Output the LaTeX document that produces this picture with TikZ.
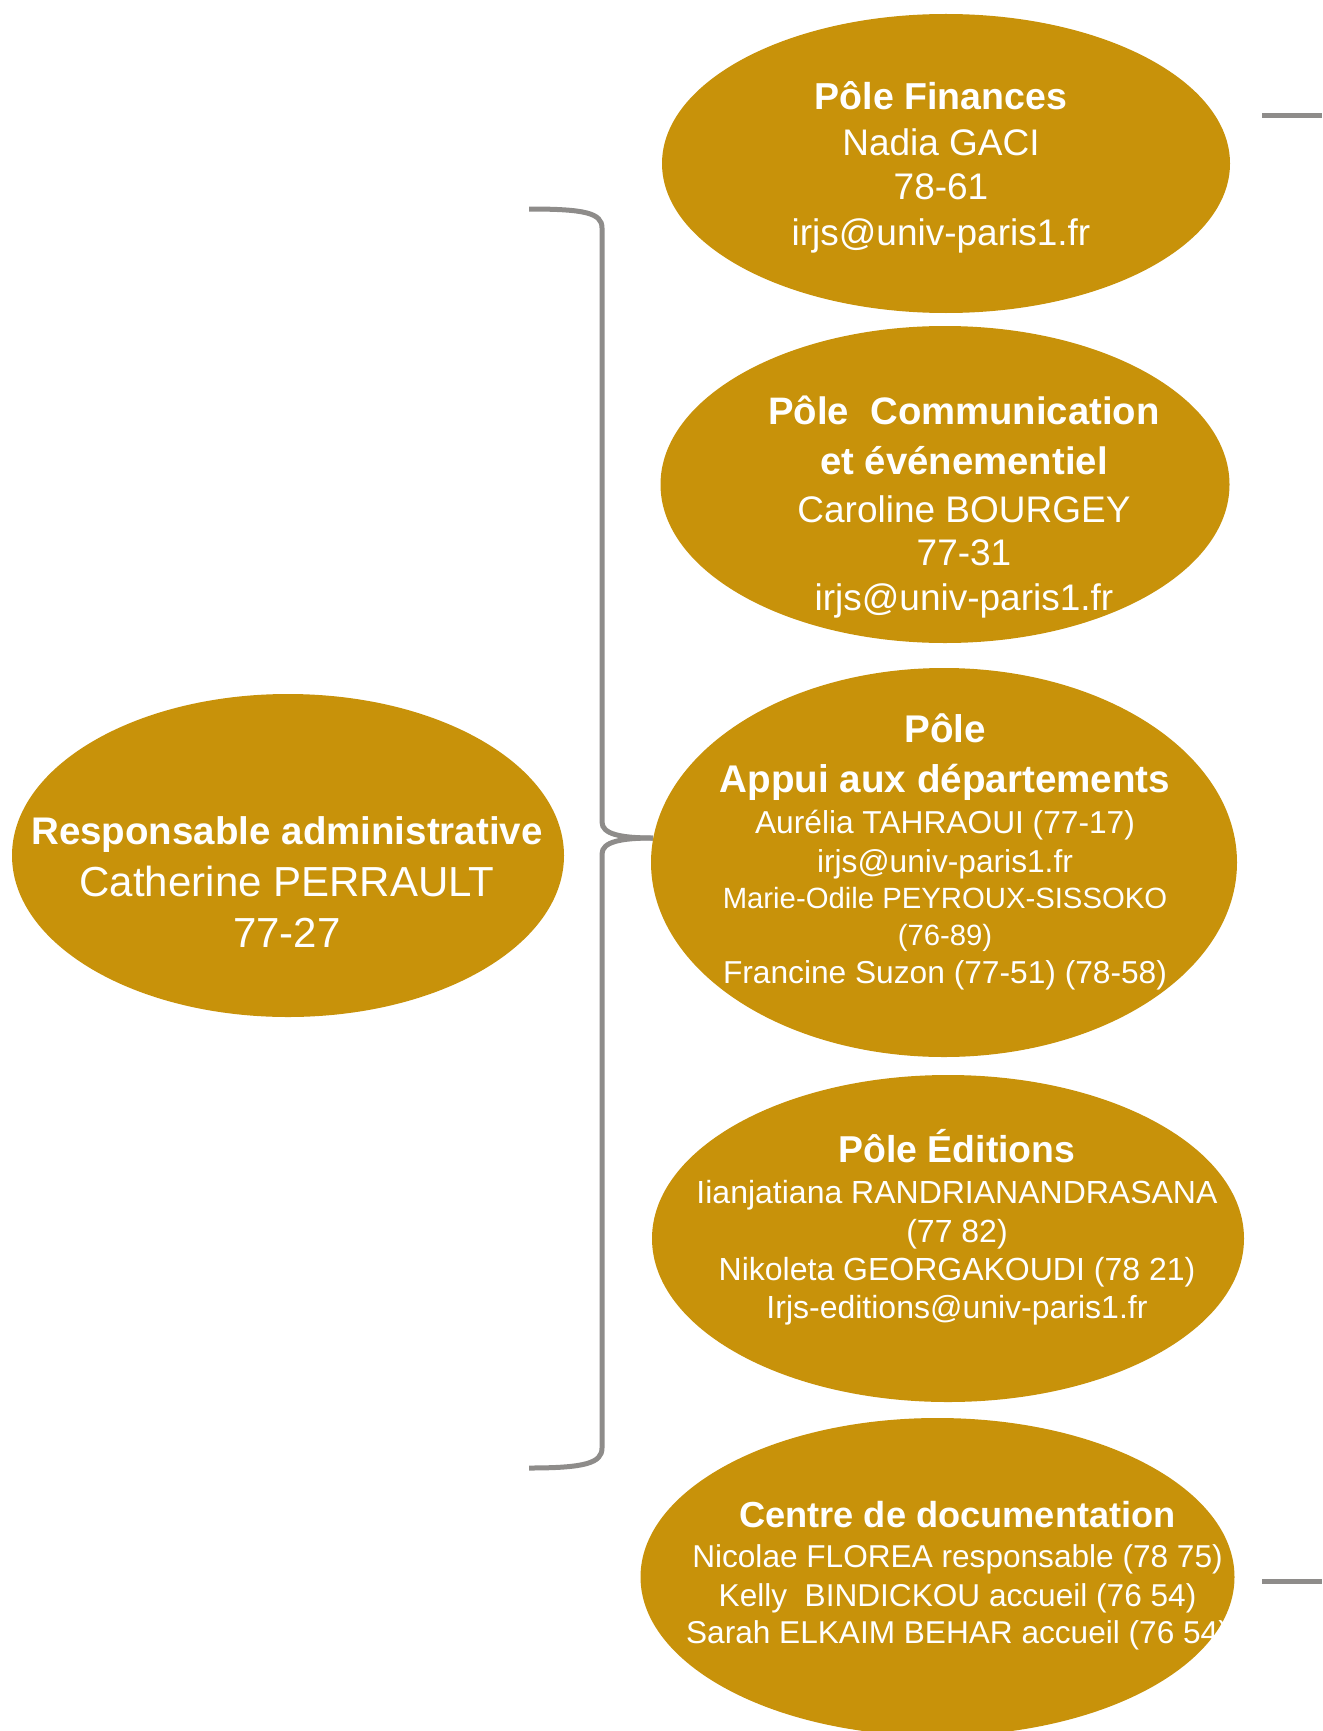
\documentclass[tikz,border=0pt]{standalone}
\usepackage{fontspec}
\setmainfont{Liberation Sans}
\usetikzlibrary{shapes.geometric}
\definecolor{ocre}{RGB}{200,146,10}
\definecolor{trait}{RGB}{142,140,138}

\begin{document}
\begin{tikzpicture}[x=1pt, y=-1pt,
  pole/.style={ellipse, fill=ocre, draw=none, inner sep=0pt},
  titre/.style={text=white, anchor=base, inner sep=0pt, font=\fontsize{#1}{#1}\selectfont\bfseries},
  nom/.style={text=white, anchor=base, inner sep=0pt, font=\fontsize{#1}{#1}\selectfont},
  accolade/.style={draw=trait, line width=5pt}]

  % Page frame
  \useasboundingbox (0,0) rectangle (1322,1731);

  % Ends of the bracket and of the stubs
  \coordinate (acc-haut) at (529,209);
  \coordinate (acc-bas) at (529,1468);
  \coordinate (acc-pointe) at (653,838);
  \coordinate (fin-a) at (1262,116);
  \coordinate (fin-b) at (1322,116);
  \coordinate (doc-a) at (1262,1581);
  \coordinate (doc-b) at (1322,1581);

  % Draw the bracket
  \draw[accolade] (acc-haut) .. controls (585,209) and (602,213) .. (602,228)
    -- (602,822) .. controls (602,834) and (620,838) .. (acc-pointe);
  \draw[accolade] (acc-pointe) .. controls (620,838) and (602,842) .. (602,854)
    -- (602,1448) .. controls (602,1463) and (585,1468) .. (acc-bas);

  % Stubs on the right
  \draw[accolade] (fin-a) -- (fin-b);
  \draw[accolade] (doc-a) -- (doc-b);

  % Draw the ellipses
  \node[pole, minimum width=552pt, minimum height=323pt] (resp) at (288,855.5) {};
  \node[pole, minimum width=568pt, minimum height=299pt] (fin) at (946,163.5) {};
  \node[pole, minimum width=569pt, minimum height=317pt] (com) at (945,484.5) {};
  \node[pole, minimum width=586pt, minimum height=389pt] (app) at (944,862.5) {};
  \node[pole, minimum width=592pt, minimum height=327pt] (edi) at (948,1238.5) {};
  \node[pole, minimum width=594pt, minimum height=318pt] (doc) at (937.5,1577) {};

  % Responsable administrative
  \node[titre=38.5] (resp-t) at (287,844) {Responsable administrative};
  \node[nom=42] (resp-1) at (287,896) {Catherine PERRAULT};
  \node[nom=42] (resp-2) at (287,947) {77-27};

  % Pole Finances
  \node[titre=37.5] (fin-t) at (941,110) {Pôle Finances};
  \node[nom=37] (fin-1) at (941,156) {Nadia GACI};
  \node[nom=37] (fin-2) at (941,200) {78-61};
  \node[nom=37] (fin-3) at (941,245) {irjs@univ-paris1.fr};

  % Pole Communication
  \node[titre=38.3] (com-t) at (964,424) {Pôle\ \ Communication};
  \node[titre=38.3] (com-u) at (964,474) {et événementiel};
  \node[nom=37] (com-1) at (964,522) {Caroline BOURGEY};
  \node[nom=37] (com-2) at (964,565) {77-31};
  \node[nom=37] (com-3) at (964,610) {irjs@univ-paris1.fr};

  % Pole Appui
  \node[titre=38.6] (app-t) at (945,742) {Pôle};
  \node[titre=38.6] (app-u) at (945,792) {Appui aux départements};
  \node[nom=31.7] (app-1) at (945,833) {Aurélia TAHRAOUI (77-17)};
  \node[nom=31.7] (app-2) at (945,872) {irjs@univ-paris1.fr};
  \node[nom=29.3] (app-3) at (945,908) {Marie-Odile PEYROUX-SISSOKO};
  \node[nom=29.3] (app-4) at (945,945) {(76-89)};
  \node[nom=31.7] (app-5) at (945,983) {Francine Suzon (77-51) (78-58)};

  % Pole Editions
  \node[titre=37.4] (edi-t) at (957,1162) {Pôle Éditions};
  \node[nom=32] (edi-1) at (957,1203) {Iianjatiana RANDRIANANDRASANA};
  \node[nom=32] (edi-2) at (957,1242) {(77 82)};
  \node[nom=32] (edi-3) at (957,1280) {Nikoleta GEORGAKOUDI (78 21)};
  \node[nom=32] (edi-4) at (957,1318) {Irjs-editions@univ-paris1.fr};

  % Centre de documentation
  \node[titre=36.2] (doc-t) at (957.5,1527) {Centre de documentation};
  \node[nom=31.6] (doc-1) at (957.5,1567) {Nicolae FLOREA responsable (78 75)};
  \node[nom=31.6] (doc-2) at (957.5,1606) {Kelly\ \ BINDICKOU accueil (76 54)};
  \node[nom=31.6] (doc-3) at (957.5,1643) {Sarah ELKAIM BEHAR accueil (76 54)};

\end{tikzpicture}
\end{document}
